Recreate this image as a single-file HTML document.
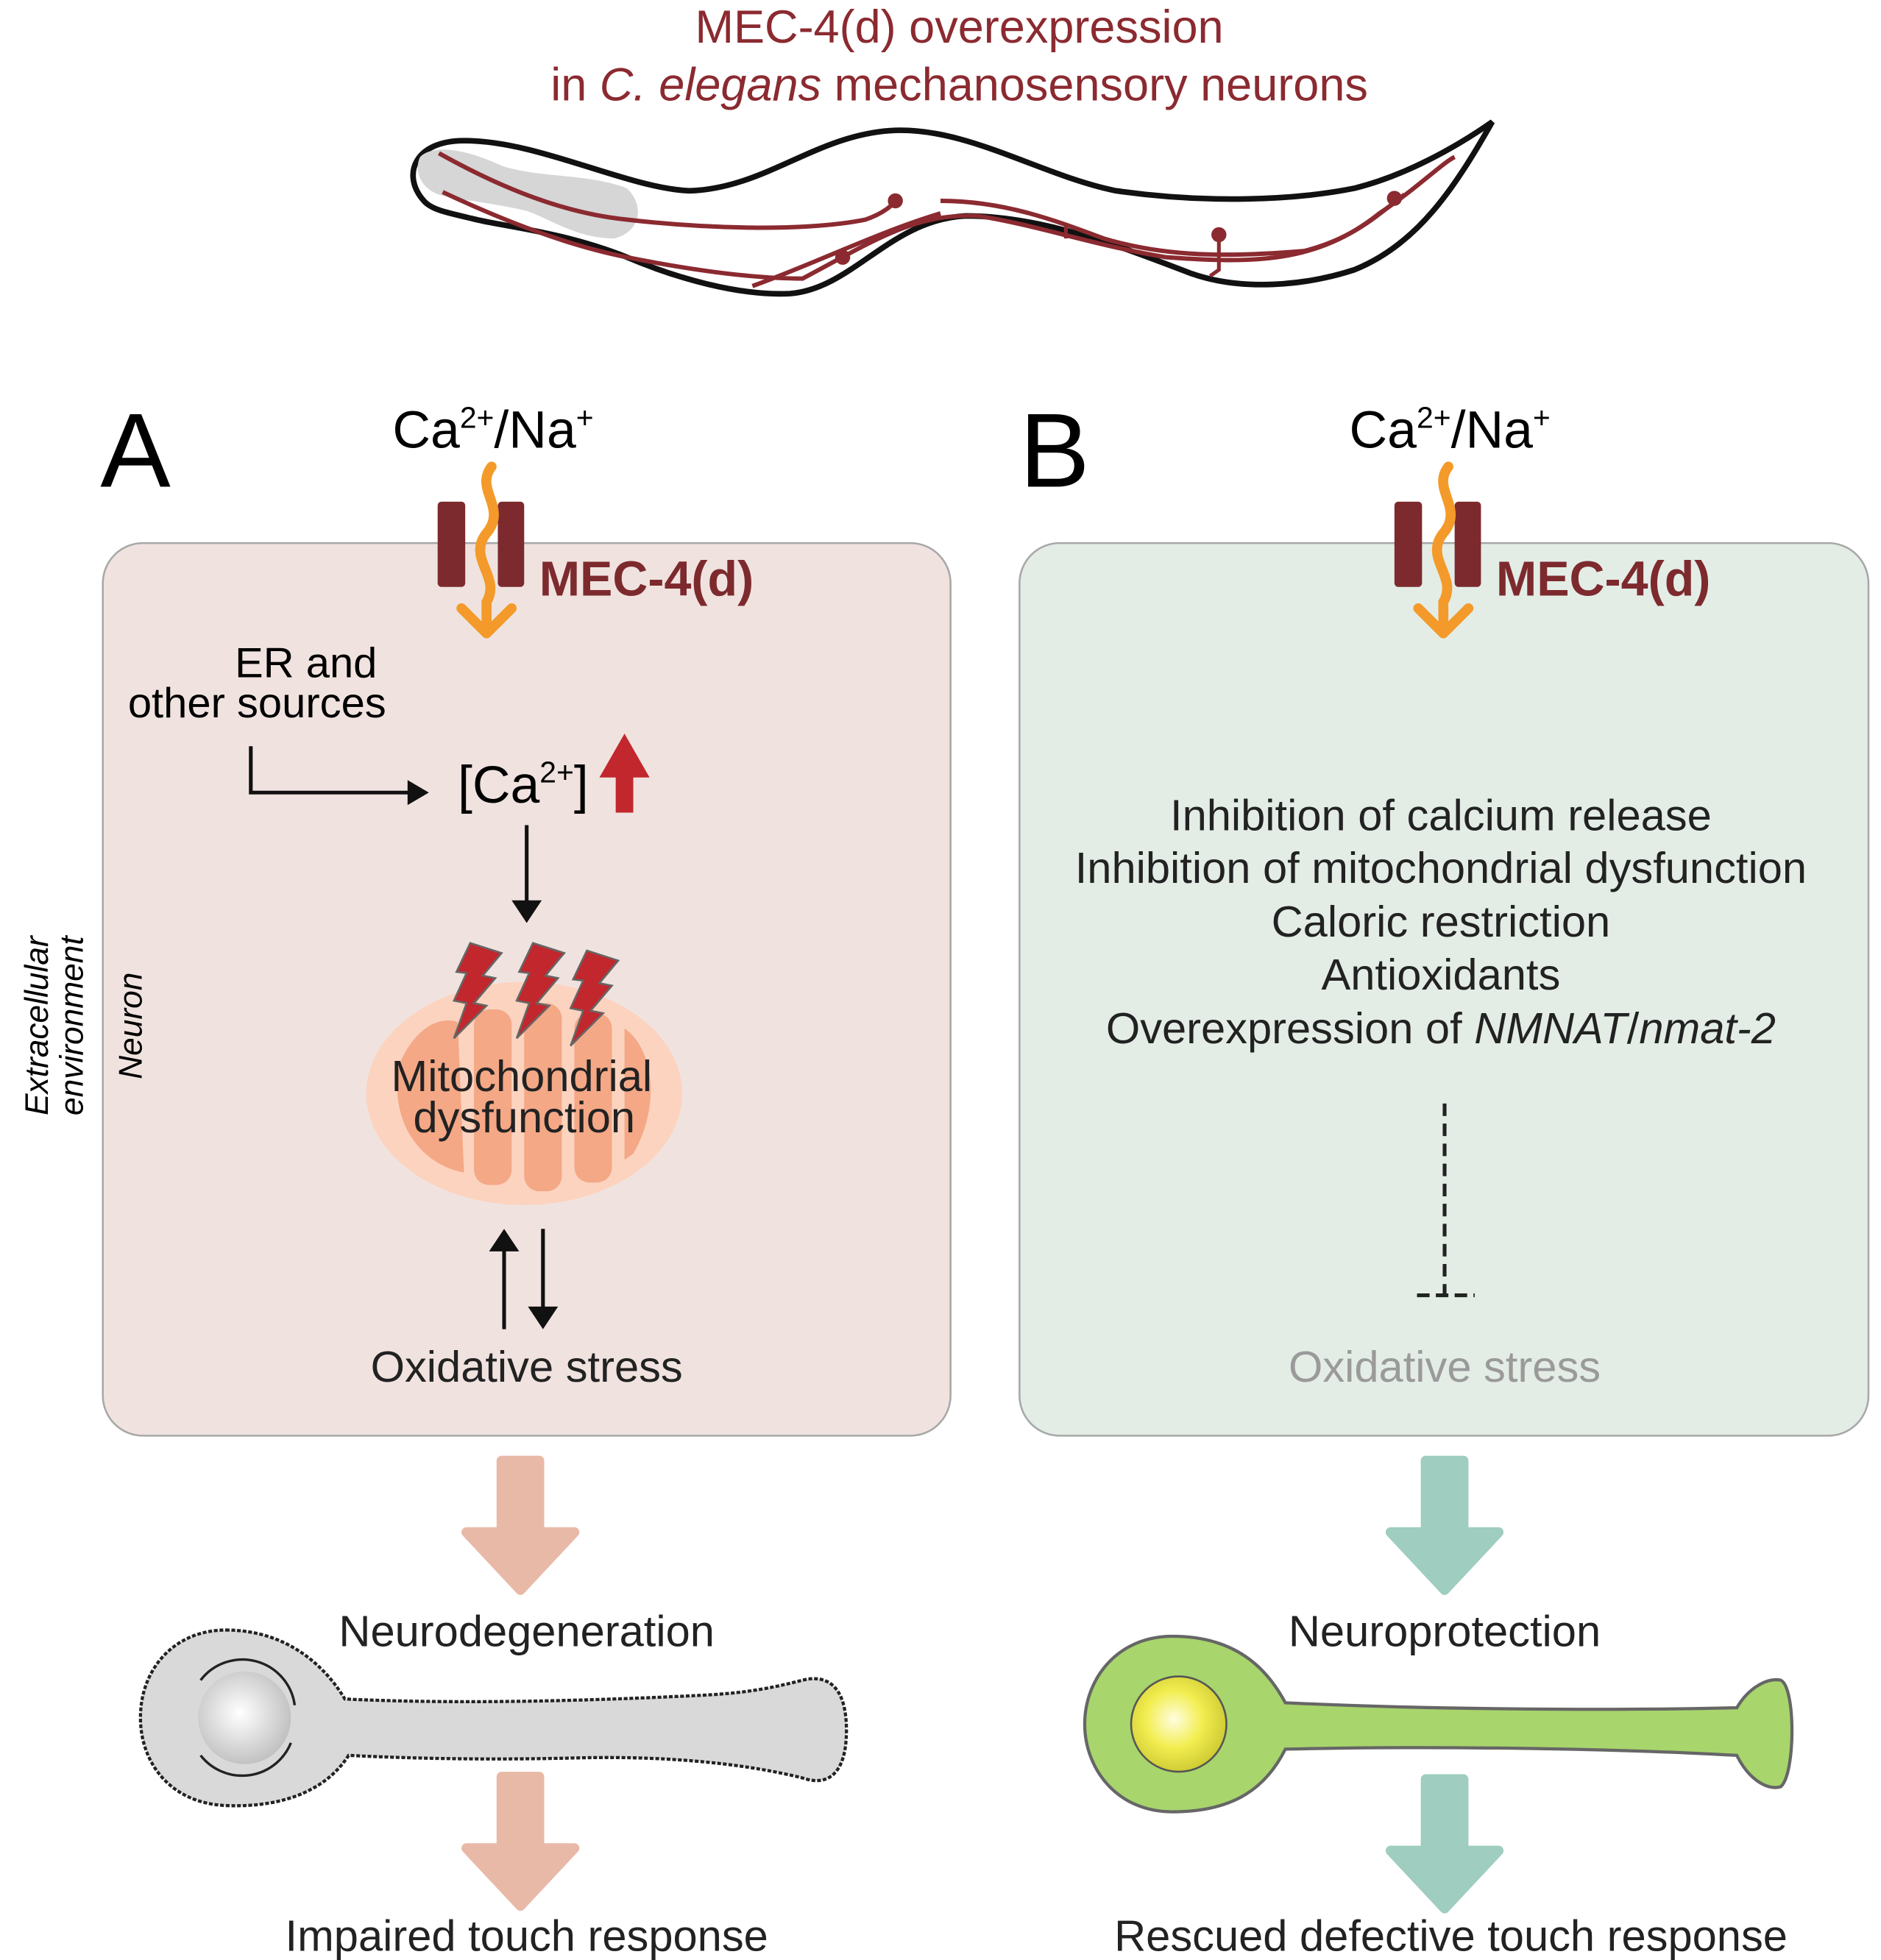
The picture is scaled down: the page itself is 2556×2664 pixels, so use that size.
<!DOCTYPE html>
<html><head><meta charset="utf-8"><style>html,body{margin:0;padding:0;background:#fff}svg{display:block}text{font-family:"Liberation Sans",sans-serif}</style></head><body>
<svg width="2556" height="2664" viewBox="0 0 1500 1563" xmlns="http://www.w3.org/2000/svg">
<defs>
<radialGradient id="gn" cx="0.45" cy="0.45" r="0.6"><stop offset="0" stop-color="#fff"/><stop offset="1" stop-color="#bdbdbd"/></radialGradient>
<radialGradient id="yn" cx="0.45" cy="0.45" r="0.6"><stop offset="0" stop-color="#fffde0"/><stop offset="0.5" stop-color="#f2ee50"/><stop offset="1" stop-color="#c9c630"/></radialGradient>
</defs>
<text x="765" y="34" font-size="37" fill="#8b2a30" text-anchor="middle">MEC-4(d) overexpression</text>
<text x="765" y="80" font-size="37" fill="#8b2a30" text-anchor="middle">in <tspan font-style="italic">C. elegans</tspan> mechanosensory neurons</text>
<!-- worm -->
<path d="M338,160 C320,140 330,112 370,112 C430,112 500,150 550,152 C610,150 650,108 710,104 C770,100 830,140 890,152 C960,162 1030,160 1080,150 C1120,140 1160,118 1190,97 C1160,150 1130,195 1080,215 C1040,228 990,232 950,218 C890,195 830,172 770,172 C710,175 680,230 630,234 C590,236 540,222 500,205 C450,185 400,180 380,175 C360,170 345,168 338,160 z" fill="#fff" stroke="#111" stroke-width="4.5"/>
<path d="M335,125 C345,115 370,118 400,132 C430,142 470,138 500,150 C515,165 510,185 490,190 C460,190 440,175 420,168 C395,162 370,160 350,155 C335,150 330,135 335,125 z" fill="#d6d6d6"/>
<g fill="none" stroke="#8b2a30" stroke-width="3.5">
<path d="M350,122 C400,150 450,170 500,175 C560,182 640,185 690,175 C705,170 712,163 714,160"/>
<path d="M353,153 C400,175 450,195 500,205 C550,215 600,222 640,222 C700,190 730,170 780,172 C830,180 870,195 930,205 C1000,210 1050,210 1100,170 C1130,150 1150,130 1160,125"/>
<path d="M750,160 C800,160 840,175 880,190 C930,205 980,205 1040,200 C1080,190 1100,170 1120,155"/>
<path d="M600,228 C650,210 700,185 750,170"/>
</g>
<g fill="#8b2a30"><ellipse cx="714" cy="160" rx="6" ry="6"/><ellipse cx="672" cy="205" rx="6" ry="6"/><ellipse cx="972" cy="187" rx="6" ry="6"/><ellipse cx="1112" cy="158" rx="6" ry="6"/></g>
<path d="M972,190 L972,215 L965,220 M850,180 L850,190" stroke="#8b2a30" stroke-width="3" fill="none"/>
<!-- panels -->
<rect x="82" y="433" width="676" height="712" rx="32" fill="#f0e3df" stroke="#a8a8a8" stroke-width="1.5"/>
<rect x="813" y="433" width="677" height="712" rx="32" fill="#e3ede6" stroke="#a8a8a8" stroke-width="1.5"/>
<text x="80" y="388" font-size="84">A</text>
<text x="813" y="388" font-size="84">B</text>
<text transform="translate(38,818) rotate(-90)" font-size="26" font-style="italic" text-anchor="middle"><tspan x="0" y="0">Extracellular</tspan><tspan x="0" y="28">environment</tspan></text>
<text transform="translate(113,818) rotate(-90)" font-size="26" font-style="italic" text-anchor="middle">Neuron</text>
<!-- channel -->
<g id="ch">
<text x="313" y="357" font-size="42">Ca<tspan font-size="24" dy="-16">2+</tspan><tspan dy="16">/Na</tspan><tspan font-size="24" dy="-16">+</tspan></text>
<rect x="349" y="400" width="22" height="68" rx="3" fill="#7d2a2e"/>
<rect x="397" y="400" width="21" height="68" rx="3" fill="#7d2a2e"/>
<path d="M392,372 C378,390 405,405 388,425 C372,445 400,460 388,480 L388,500" fill="none" stroke="#f39a2a" stroke-width="8" stroke-linecap="round"/>
<path d="M368,485 L388,505 L408,485" fill="none" stroke="#f39a2a" stroke-width="8" stroke-linecap="round" stroke-linejoin="round"/>
<text x="430" y="475" font-size="39" font-weight="bold" fill="#7d2a2e">MEC-4(d)</text>
</g>
<use href="#ch" x="763"/>
<!-- A contents -->
<text x="244" y="540" font-size="34" text-anchor="middle">ER and</text>
<text x="205" y="572" font-size="34" text-anchor="middle">other sources</text>
<path d="M200,595 L200,632 L330,632" fill="none" stroke="#111" stroke-width="3"/>
<path d="M325,622 L342,632 L325,642 z" fill="#111"/>
<text x="365" y="640" font-size="42">[Ca<tspan font-size="24" dy="-16">2+</tspan><tspan dy="16">]</tspan></text>
<path d="M491,648 L491,620 L478,620 L498,585 L518,620 L505,620 L505,648 z" fill="#c1272d"/>
<line x1="420" y1="658" x2="420" y2="720" stroke="#111" stroke-width="3"/>
<path d="M408,718 L420,736 L432,718 z" fill="#111"/>
<ellipse cx="418" cy="872" rx="126" ry="89" fill="#fcd3bf"/>
<g fill="#f4a886">
<path d="M318,850 C330,820 350,810 365,815 L370,935 C340,930 310,900 318,850 z"/>
<rect x="378" y="805" width="30" height="140" rx="12"/>
<rect x="418" y="800" width="30" height="150" rx="12"/>
<rect x="458" y="808" width="30" height="135" rx="12"/>
<path d="M498,820 C520,835 528,880 505,920 L498,925 z"/>
</g>
<g fill="#c1272d" stroke="#666" stroke-width="1.5">
<path d="M375,752 L400,760 L385,778 L395,780 L378,800 L388,802 L362,828 L372,800 L362,798 L372,776 L364,775 z"/>
<path d="M425,752 L450,760 L435,778 L445,780 L428,800 L438,802 L412,828 L422,800 L412,798 L422,776 L414,775 z"/>
<path d="M468,758 L493,766 L478,784 L488,786 L471,806 L481,808 L455,834 L465,806 L455,804 L465,782 L457,781 z"/>
</g>
<text x="416" y="870" font-size="35" text-anchor="middle" fill="#222">Mitochondrial</text>
<text x="418" y="903" font-size="35" text-anchor="middle" fill="#222">dysfunction</text>
<line x1="402" y1="995" x2="402" y2="1060" stroke="#111" stroke-width="3"/>
<path d="M390,998 L402,980 L414,998 z" fill="#111"/>
<line x1="433" y1="980" x2="433" y2="1045" stroke="#111" stroke-width="3"/>
<path d="M421,1042 L433,1060 L445,1042 z" fill="#111"/>
<text x="420" y="1102" font-size="35" text-anchor="middle" fill="#222">Oxidative stress</text>
<!-- B contents -->
<g font-size="35" text-anchor="middle" fill="#222">
<text x="1149" y="662">Inhibition of calcium release</text>
<text x="1149" y="704">Inhibition of mitochondrial dysfunction</text>
<text x="1149" y="747">Caloric restriction</text>
<text x="1149" y="789">Antioxidants</text>
<text x="1149" y="832">Overexpression of <tspan font-style="italic">NMNAT</tspan>/<tspan font-style="italic">nmat-2</tspan></text>
</g>
<line x1="1152" y1="880" x2="1152" y2="1032" stroke="#222" stroke-width="3" stroke-dasharray="10,6"/>
<line x1="1130" y1="1033" x2="1176" y2="1033" stroke="#222" stroke-width="3" stroke-dasharray="10,5"/>
<text x="1152" y="1102" font-size="35" text-anchor="middle" fill="#9a9a9a">Oxidative stress</text>
<!-- big arrows -->
<g id="ba"><path d="M400,1165 L430,1165 L430,1222 L458,1222 L415,1268 L372,1222 L400,1222 z" fill="#e9b9a8" stroke="#e9b9a8" stroke-width="8" stroke-linejoin="round"/></g>
<use href="#ba" y="252"/>
<g id="bb"><path d="M1137,1165 L1167,1165 L1167,1222 L1195,1222 L1152,1268 L1109,1222 L1137,1222 z" fill="#9fcdbf" stroke="#9fcdbf" stroke-width="8" stroke-linejoin="round"/></g>
<use href="#bb" y="254"/>
<text x="420" y="1313" font-size="35" text-anchor="middle" fill="#222">Neurodegeneration</text>
<text x="1152" y="1313" font-size="35" text-anchor="middle" fill="#222">Neuroprotection</text>
<text x="420" y="1556" font-size="35" text-anchor="middle" fill="#222">Impaired touch response</text>
<text x="1157" y="1556" font-size="35" text-anchor="middle" fill="#222">Rescued defective touch response</text>
<!-- grey neuron -->
<path d="M180,1300 C230,1300 260,1330 275,1355 C380,1360 500,1355 560,1352 C600,1350 620,1345 640,1340 C660,1335 675,1345 675,1380 C675,1415 660,1425 640,1418 C600,1408 540,1400 460,1402 C380,1404 320,1402 278,1400 C262,1425 230,1442 180,1440 C135,1438 112,1405 112,1370 C112,1330 140,1300 180,1300 z" fill="#d9d9d9" stroke="#222" stroke-width="2.5" stroke-dasharray="3,1.5"/>
<path d="M160,1340 A42,42 0 0 1 235,1360 M232,1390 A42,42 0 0 1 160,1400" fill="none" stroke="#222" stroke-width="2"/>
<circle cx="195" cy="1370" r="37" fill="url(#gn)"/>
<!-- green neuron -->
<path d="M935,1305 C985,1305 1010,1330 1025,1358 C1150,1364 1300,1364 1385,1362 C1395,1345 1410,1338 1420,1340 C1432,1345 1432,1415 1420,1425 C1410,1428 1395,1420 1385,1400 C1300,1395 1150,1392 1025,1395 C1010,1425 985,1445 935,1445 C890,1445 865,1410 865,1375 C865,1340 890,1305 935,1305 z" fill="#a8d56c" stroke="#666" stroke-width="2.5"/>
<circle cx="940" cy="1375" r="38" fill="url(#yn)" stroke="#555" stroke-width="1.5"/>
</svg>
</body></html>
